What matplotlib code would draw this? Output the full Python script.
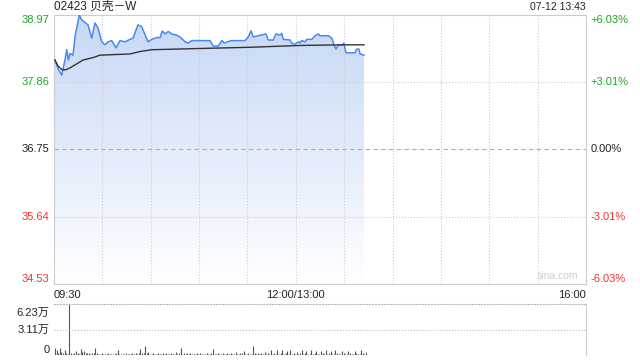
import numpy as np
import matplotlib
matplotlib.use("Agg")
import matplotlib.pyplot as plt
from matplotlib.colors import LinearSegmentedColormap
from matplotlib.transforms import blended_transform_factory, offset_copy

plt.rcParams['font.family'] = ['Liberation Sans', 'Noto Sans CJK SC', 'DejaVu Sans']

# minutes since 09:30 (12:00 and 13:00 share minute 150), 330 = 16:00
price_min = [0.6, 2.5, 4.8, 6.8, 7.9, 8.9, 9.9, 11.8, 13.0, 15.7, 17.2, 21.1, 23.4, 25.4,
             27.3, 29.6, 31.6, 33.5, 35.8, 38.5, 40.9, 44.0, 47.1, 49.0, 52.1, 54.4, 58.3,
             60.6, 63.7, 65.8, 67.2, 68.9, 70.9, 73.0, 76.1, 78.2, 81.3, 83.3, 85.4, 96.8,
             98.8, 101.9, 104.0, 105.6, 109.8, 118.5, 120.5, 122.2, 123.6, 131.5, 132.9,
             136.0, 137.7, 140.2, 141.3, 142.2, 146.4, 147.4, 149.5, 151.6, 152.6, 153.7,
             155.7, 156.8, 159.9, 161.9, 164.0, 165.0, 170.2, 172.3, 173.3, 174.9, 176.4,
             179.1, 179.8, 181.1, 186.7, 187.8, 189.2, 189.8, 192.3]
price = [38.22, 38.08, 37.97, 38.22, 38.39, 38.22, 38.33, 38.30, 38.60, 38.96, 38.88, 38.80,
         38.58, 38.83, 38.75, 38.52, 38.47, 38.52, 38.54, 38.42, 38.54, 38.52, 38.56, 38.58,
         38.80, 38.77, 38.52, 38.56, 38.59, 38.59, 38.70, 38.65, 38.69, 38.65, 38.63, 38.60,
         38.52, 38.50, 38.54, 38.54, 38.45, 38.45, 38.54, 38.50, 38.54, 38.54, 38.60, 38.70,
         38.60, 38.65, 38.55, 38.55, 38.65, 38.63, 38.66, 38.56, 38.55, 38.50, 38.48, 38.52,
         38.50, 38.54, 38.52, 38.56, 38.56, 38.62, 38.65, 38.62, 38.62, 38.58, 38.50, 38.40,
         38.47, 38.47, 38.50, 38.34, 38.34, 38.40, 38.40, 38.32, 38.30]

avg_min = [0.6, 2.5, 5.0, 7.4, 9.9, 14.9, 18.0, 24.2, 28.5, 47.1, 53.3, 60.8, 90.6, 121.6,
           152.6, 177.4, 192.3]
avg_price = [38.22, 38.12, 38.06, 38.06, 38.09, 38.17, 38.22, 38.26, 38.30, 38.32, 38.36,
             38.39, 38.41, 38.43, 38.46, 38.47, 38.47]

# volume per minute, in hundreds of shares
vol_h = [91, 62, 25, 83, 41, 22, 62, 30, 18, 623, 20, 15, 30, 45, 30, 18, 75, 35, 45, 20,
         30, 25, 15, 30, 20, 91, 22, 18, 15, 20, 12, 18, 15, 20, 14, 12, 18, 15, 20, 62,
         15, 12, 18, 14, 20, 15, 12, 18, 22, 15, 20, 18, 30, 70, 20, 25, 104, 20, 35, 18,
         15, 22, 18, 15, 20, 14, 18, 22, 15, 30, 18, 15, 20, 14, 18, 35, 15, 20, 83, 18,
         22, 15, 20, 18, 30, 15, 12, 18, 20, 15, 22, 14, 18, 15, 20, 18, 15, 22, 75, 18,
         15, 20, 14, 18, 22, 15, 18, 30, 15, 20, 18, 14, 35, 18, 15, 20, 22, 45, 18, 15,
         20, 18, 15, 116, 20, 18, 30, 15, 22, 18, 35, 15, 20, 18, 55, 15, 20, 18, 55, 15,
         22, 55, 18, 20, 45, 15, 55, 18, 20, 15, 35, 18, 20, 55, 15, 22, 45, 18, 15, 60,
         18, 20, 45, 15, 18, 45, 20, 15, 55, 18, 20, 45, 15, 18, 55, 20, 15, 18, 45, 20,
         15, 18, 45, 20, 15, 18, 45, 20, 15, 18, 55, 20, 15, 35]

prev_close = 36.75
y_ticks = [38.97, 37.86, 36.75, 35.64, 34.53]
y_pct = ['+6.03%', '+3.01%', '0.00%', '-3.01%', '-6.03%']
y_colors = ['#1aaa1a', '#1aaa1a', '#222222', '#ee3333', '#ee3333']
vol_max = 62300
vol_labels = ['6.23万', '3.11万', '0']

fig = plt.figure(figsize=(6.4, 3.6), dpi=100)
ax = fig.add_axes([54 / 640, 1 - 284 / 360, 532 / 640, 269.5 / 360])
axv = fig.add_axes([54 / 640, 1 - 355 / 360, 532 / 640, 51 / 360])

# price area with vertical gradient
poly = ax.fill_between(price_min, price, y_ticks[-1], color='none', lw=0)
grad = np.linspace(1, 0, 256).reshape(-1, 1)
cmap = LinearSegmentedColormap.from_list('fade', ['#ffffff', '#c6d8f6'])
im = ax.imshow(grad, cmap=cmap, extent=[0, 330, y_ticks[-1], y_ticks[0]],
               aspect='auto', zorder=1)
im.set_clip_path(poly.get_paths()[0], transform=ax.transData)
ax.plot(price_min, price, color='#4a88ee', lw=1.1, zorder=3)
ax.plot(avg_min, avg_price, color='#333333', lw=1.0, zorder=4)

ax.set_xlim(0, 330)
ax.set_ylim(y_ticks[-1], y_ticks[0])
for v in y_ticks[1:-1]:
    if v == prev_close:
        ax.axhline(v, color='#eb9a80', lw=0.8, ls=(0, (4, 3)), zorder=2)
    else:
        ax.axhline(v, color='#cccccc', lw=0.8, ls=':', zorder=2)
for m in range(30, 330, 30):
    ax.axvline(m, color='#cccccc', lw=0.8, ls=':', zorder=2)
ax.set_xticks([])
ax.set_yticks([])
for s in ax.spines.values():
    s.set_color('#cccccc')
    s.set_linewidth(0.8)

tl = blended_transform_factory(ax.transAxes, ax.transData)
for i, (v, p, c) in enumerate(zip(y_ticks, y_pct, y_colors)):
    va = 'top' if i == 0 else ('bottom' if i == len(y_ticks) - 1 else 'center')
    ax.text(-0.008, v, '%.2f' % v, transform=tl, ha='right', va=va, color=c, fontsize=8)
    ax.text(1.008, v, p, transform=tl, ha='left', va=va, color=c, fontsize=8)

ax.text(0.985, 0.012, 'sina.com', transform=ax.transAxes, ha='right', va='bottom',
        color='#cccccc', fontsize=7.5)

tx = offset_copy(ax.transAxes, fig=fig, y=-4, units='points')
ax.text(0.0, 0.0, '09:30', transform=tx, ha='left', va='top', fontsize=8, color='#222222')
ax.text(150 / 330, 0.0, '12:00/13:00', transform=tx, ha='center', va='top', fontsize=8,
        color='#222222')
ax.text(1.0, 0.0, '16:00', transform=tx, ha='right', va='top', fontsize=8, color='#222222')

fig.text(54 / 640, 1 - 7 / 360, '02423 贝壳－W', ha='left', va='center', fontsize=8.5,
         color='#222222')
fig.text(586 / 640, 1 - 7 / 360, '07-12 13:43', ha='right', va='center', fontsize=7.5,
         color='#222222')

# volume panel
vol = np.array(vol_h) * 100
axv.vlines(np.arange(len(vol)) + 0.6, 0, vol, color='#555555', lw=0.8)
axv.set_xlim(0, 330)
axv.set_ylim(0, vol_max)
axv.axhline(vol_max / 2, color='#bbbbbb', lw=0.8, ls=':')
axv.set_xticks([])
axv.set_yticks([])
axv.spines['left'].set_visible(False)
axv.spines['bottom'].set_visible(False)
axv.spines['top'].set_linestyle(':')
axv.spines['top'].set_color('#bbbbbb')
axv.spines['right'].set_color('#cccccc')
axv.spines['right'].set_linewidth(0.8)
tv = blended_transform_factory(axv.transAxes, axv.transData)
tv_top = offset_copy(tv, fig=fig, y=-3, units='points')
axv.text(-0.008, vol_max, vol_labels[0], transform=tv_top, ha='right', va='top',
         fontsize=8, color='#222222')
axv.text(-0.008, vol_max / 2, vol_labels[1], transform=tv, ha='right', va='center',
         fontsize=8, color='#222222')
axv.text(-0.008, 0, vol_labels[2], transform=tv, ha='right', va='bottom',
         fontsize=8, color='#222222')

fig.savefig('out.png', dpi=100)
